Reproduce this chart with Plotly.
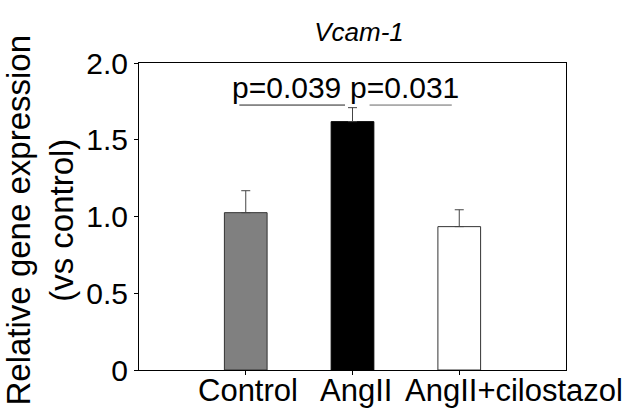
import plotly.graph_objects as go

categories = ["Control", "AngII", "AngII+cilostazol"]
values = [1.025, 1.618, 0.934]
errors = [0.143, 0.091, 0.110]
bar_colors = ["#808080", "#000000", "#ffffff"]
line_colors = ["#333333", "#000000", "#333333"]
y_tickvals = [0, 0.5, 1.0, 1.5, 2.0]
y_ticktext = ["0", "0.5", "1.0", "1.5", "2.0"]
p_labels = ["p=0.039", "p=0.031"]

FONT = "Arial, Liberation Sans, sans-serif"
xpos = [0, 1, 2]

fig = go.Figure()
fig.add_trace(go.Bar(
    x=xpos, y=values, width=0.4,
    marker=dict(color=bar_colors, line=dict(color=line_colors, width=1)),
    error_y=dict(type="data", array=errors, arrayminus=[0, 0, 0], symmetric=False,
                 color="#444444", thickness=1, width=4.5),
    showlegend=False,
))

# category labels placed under the bars
label_shift = [-50, -35, -56]
for xi, lab, sh in zip(xpos, categories, label_shift):
    fig.add_annotation(x=xi, y=0, xref="x", yref="y", text=lab, showarrow=False,
                       xanchor="left", yanchor="top", xshift=sh, yshift=-1,
                       font=dict(family=FONT, size=31, color="black"))

# significance lines and p-values
fig.add_shape(type="line", xref="x", yref="y", x0=-0.06, x1=0.93, y0=1.726, y1=1.726,
              line=dict(color="#222222", width=1))
fig.add_shape(type="line", xref="x", yref="y", x0=1.16, x1=1.93, y0=1.726, y1=1.726,
              line=dict(color="#666666", width=1))
fig.add_annotation(x=0.38, y=1.84, xref="x", yref="y", text=p_labels[0], showarrow=False,
                   font=dict(family=FONT, size=30, color="black"))
fig.add_annotation(x=1.49, y=1.84, xref="x", yref="y", text=p_labels[1], showarrow=False,
                   font=dict(family=FONT, size=30, color="black"))

# y-axis title
fig.add_annotation(x=-0.232, y=0.49, xref="paper", yref="paper",
                   text="Relative gene expression<br>(vs control)", textangle=-90,
                   showarrow=False, xanchor="center", yanchor="middle",
                   font=dict(family=FONT, size=33, color="black"))

fig.update_layout(
    width=627, height=414,
    margin=dict(l=139, r=61, t=63, b=44),
    paper_bgcolor="white", plot_bgcolor="white",
    font=dict(family=FONT, color="black"),
    title=dict(text="<i>Vcam-1</i>", x=359 / 627, xanchor="center",
               y=1 - 32 / 414, yanchor="middle",
               font=dict(family=FONT, size=26, color="black")),
)
fig.update_xaxes(range=[-1, 3], tickvals=xpos, ticktext=["", "", ""],
                 ticks="outside", ticklen=4, tickcolor="black",
                 showline=True, linecolor="black", linewidth=1, mirror=True,
                 showgrid=False, zeroline=False)
fig.update_yaxes(range=[0, 2.0], tickvals=y_tickvals, ticktext=y_ticktext,
                 ticks="outside", ticklen=4, tickcolor="black",
                 tickfont=dict(family=FONT, size=30, color="black"),
                 showline=True, linecolor="black", linewidth=1, mirror=True,
                 showgrid=False, zeroline=False)

fig.write_html("out.html")
